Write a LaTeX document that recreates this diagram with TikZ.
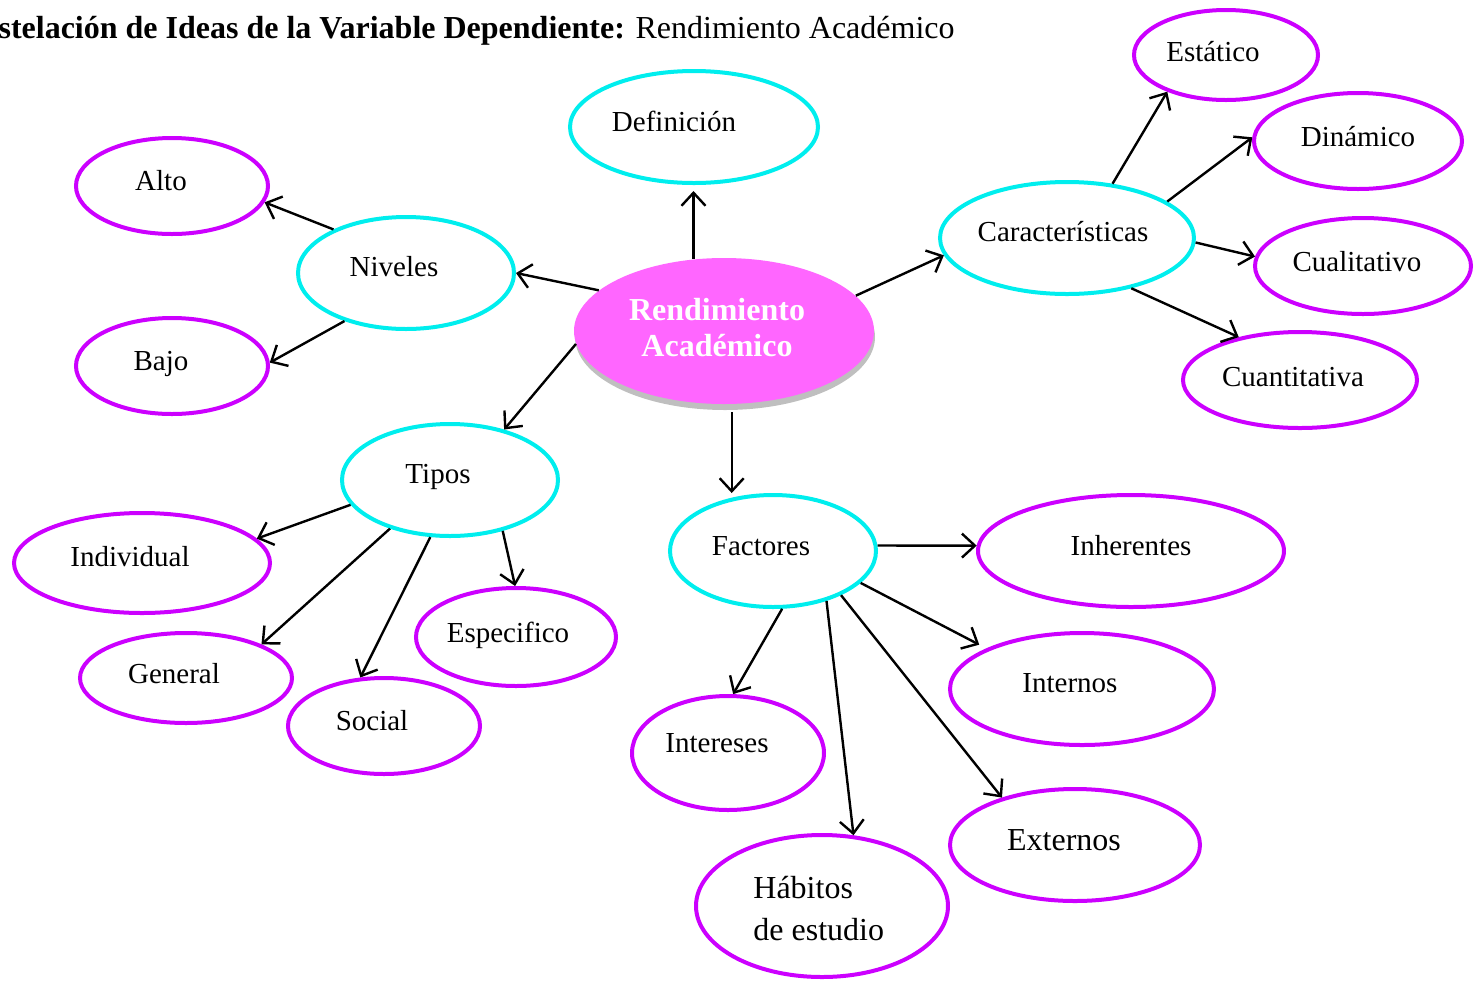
\documentclass[tikz,border=0pt]{standalone}
\usepackage{fontspec}
\setmainfont{Liberation Serif}
\usetikzlibrary{shapes.geometric,arrows.meta,shadows}
\definecolor{cy}{HTML}{00EEEE}
\definecolor{pu}{HTML}{CC00FF}
\definecolor{pk}{HTML}{FF66FF}
\begin{document}
\begin{tikzpicture}[x=0.5pt,y=-0.5pt,
  sz/.style 2 args={minimum width=#1pt, minimum height=#2pt},
  base/.style={ellipse, line width=2pt, inner sep=0pt, fill=white},
  cyb/.style={base, draw=cy},
  pub/.style={base, draw=pu},
  txt/.style={anchor=base, inner sep=0pt, font=\fontsize{14.5}{17}\selectfont},
  big/.style={anchor=base, inner sep=0pt, font=\fontsize{16}{19}\selectfont},
  arr/.style={line width=1.2pt, -{Straight Barb[length=6.5pt,width=12pt,line width=1.2pt]}}]
\useasboundingbox (0,0) rectangle (1474,981);
\fill[white] (0,0) rectangle (1474,981);

% title
\node[anchor=base east, inner sep=0pt, font=\fontsize{16}{19}\selectfont] (title) at (955,38)
  {\textbf{stelación de Ideas de la Variable Dependiente:} Rendimiento Académico};

% centre
\node[ellipse, fill=pk, inner sep=0pt, sz={150}{73},
  drop shadow={shadow xshift=0.5pt, shadow yshift=-3pt, fill=black, opacity=0.25}] (C) at (724,331) {};
\node[big, font=\fontsize{16}{19}\selectfont\bfseries, text=white] (ct1) at (717,320) {Rendimiento};
\node[big, font=\fontsize{16}{19}\selectfont\bfseries, text=white] (ct2) at (717,356) {Académico};

% cyan nodes
\node[cyb, sz={124}{56}] (D) at (694,127) {};
\node[cyb, sz={108}{56}] (N) at (406,273) {};
\node[cyb, sz={127}{56}] (K) at (1067,238) {};
\node[cyb, sz={108}{56}] (T) at (450,480) {};
\node[cyb, sz={103}{56}] (F) at (773,551) {};

% purple nodes
\node[pub, sz={96}{48}] (A) at (172,186) {};
\node[pub, sz={96}{48}] (B) at (172,366) {};
\node[pub, sz={92}{45}] (E) at (1226,55) {};
\node[pub, sz={104}{48}] (Di) at (1358,141) {};
\node[pub, sz={108}{48}] (Cl) at (1363,266) {};
\node[pub, sz={117}{48}] (Cn) at (1300,380) {};
\node[pub, sz={128}{50}] (I) at (142,563) {};
\node[pub, sz={106}{45}] (G) at (186,678) {};
\node[pub, sz={96}{48}] (S) at (384,726) {};
\node[pub, sz={100}{49}] (Es) at (516,637) {};
\node[pub, sz={153}{56}] (H) at (1131,551) {};
\node[pub, sz={132}{56}] (In) at (1082,689) {};
\node[pub, sz={125}{56}] (X) at (1075,845) {};
\node[pub, sz={96}{57}] (R) at (728,753) {};
\node[pub, sz={126}{71}] (Hb) at (822,906) {};

% labels
\node[txt] (tD) at (674,131) {Definición};
\node[txt] (tN) at (394,276) {Niveles};
\node[txt] (tA) at (161,190) {Alto};
\node[txt] (tB) at (161,370) {Bajo};
\node[txt] (tK) at (1063,241) {Características};
\node[txt] (tE) at (1213,61) {Estático};
\node[txt] (tDi) at (1358,146) {Dinámico};
\node[txt] (tCl) at (1357,271) {Cualitativo};
\node[txt] (tCn) at (1293,386) {Cuantitativa};
\node[txt] (tT) at (438,483) {Tipos};
\node[txt] (tI) at (130,566) {Individual};
\node[txt] (tG) at (174,683) {General};
\node[txt] (tS) at (372,730) {Social};
\node[txt] (tEs) at (508,642) {Especifico};
\node[txt] (tF) at (761,555) {Factores};
\node[txt] (tH) at (1131,555) {Inherentes};
\node[txt] (tIn) at (1070,692) {Internos};
\node[big] (tX) at (1064,850) {Externos};
\node[txt] (tR) at (717,752) {Intereses};
\node[big, anchor=base west] (tHb1) at (753,898) {Hábitos};
\node[big, anchor=base west] (tHb2) at (753,940) {de estudio};

% connectors
\draw[arr] (C.113) -- ([yshift=-3pt]D.south -| C.113);
\draw[arr] (C.162) -- (N.east);
\draw[arr] (N.149) -- (A.-10);
\draw[arr] (N.-142) -- (B.2);
\draw[arr] (C.15) -- (K.188);
\draw[arr] (K.50) -- (E.212);
\draw[arr] (K.20) -- (Di.178);
\draw[arr] (K.-2) -- (Cl.175);
\draw[arr] (K.-38) -- (Cn.145);
\draw[arr] (C.185) -- (T.43);
\draw[arr] ([yshift=-4pt]C.-84) -- (C.-84 |- F.north);
\draw[arr] (T.194) -- (I.12);
\draw[arr] (T.219) -- (G.24);
\draw[arr] (T.251) -- (S.116);
\draw[arr] (T.-44) -- (Es.91);
\draw[arr] (F.3) -- (H.178);
\draw[arr, shorten >=4pt] (F.-20) -- (In.157);
\draw[arr] (F.-33) -- (X.147);
\draw[arr] (F.-81) -- (R.85);
\draw[arr] (F.-43) -- (Hb.66);
\end{tikzpicture}
\end{document}
